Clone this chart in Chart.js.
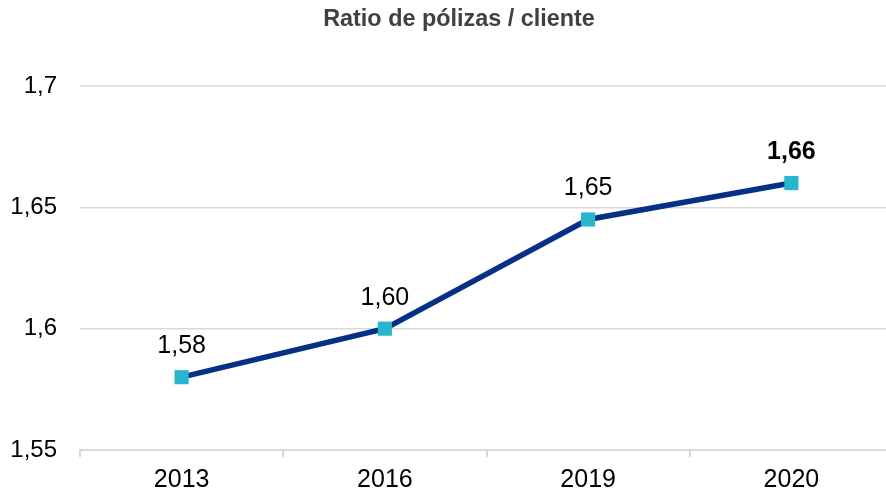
<!DOCTYPE html>
<html lang="es">
<head>
<meta charset="utf-8">
<title>Ratio de pólizas / cliente</title>
<script src="https://cdn.jsdelivr.net/npm/chart.js@4/dist/chart.umd.min.js"></script>
<style>
  html, body { margin: 0; padding: 0; background: #fff; overflow: hidden; }
  #ratioChart { display: block; }
</style>
</head>
<body>
<canvas id="ratioChart" width="893" height="496"></canvas>
<script>
// Datos del gráfico
const titulo = 'Ratio de pólizas / cliente';
const anios = ['2013', '2016', '2019', '2020'];
const ratios = [1.58, 1.60, 1.645, 1.66];
const etiquetasValor = ['1,58', '1,60', '1,65', '1,66'];
const etiquetaNegrita = [false, false, false, true];
const ticksY = [1.55, 1.6, 1.65, 1.7];
const ticksYTexto = ['1,55', '1,6', '1,65', '1,7'];

const FUENTE = '"Liberation Sans", Arial, Helvetica, sans-serif';

// Título centrado a mano (está algo desplazado a la derecha en el original)
const tituloPlugin = {
    id: 'tituloPlugin',
    afterDraw(chart) {
        const ctx = chart.ctx;
        ctx.save();
        ctx.font = 'bold 23.4px ' + FUENTE;
        ctx.fillStyle = '#404040';
        ctx.textAlign = 'center';
        ctx.textBaseline = 'alphabetic';
        ctx.fillText(titulo, 459, 26);
        ctx.restore();
    }
};

// Etiquetas de valor encima de cada punto
const etiquetasPlugin = {
    id: 'etiquetasPlugin',
    afterDatasetsDraw(chart) {
        const ctx = chart.ctx;
        const meta = chart.getDatasetMeta(0);
        ctx.save();
        ctx.textAlign = 'center';
        ctx.textBaseline = 'alphabetic';
        meta.data.forEach(function (pt, i) {
            ctx.font = (etiquetaNegrita[i] ? 'bold ' : '') + '25px ' + FUENTE;
            ctx.fillStyle = '#000';
            ctx.fillText(etiquetasValor[i], pt.x, pt.y - 24);
        });
        ctx.restore();
    }
};

const ctx = document.getElementById('ratioChart').getContext('2d');

new Chart(ctx, {
    type: 'line',
    data: {
        labels: anios,
        datasets: [{
            label: 'Ratio',
            data: ratios,
            borderColor: '#062F86',
            borderWidth: 5.5,
            backgroundColor: '#29B6CC',
            pointStyle: 'rect',
            pointRadius: 10,
            pointHoverRadius: 10,
            pointBorderWidth: 0,
            pointBackgroundColor: '#29B6CC',
            tension: 0,
            fill: false
        }]
    },
    options: {
        responsive: false,
        animation: false,
        devicePixelRatio: 1,
        layout: {
            autoPadding: false,
            padding: { top: 86, left: 0, right: 0, bottom: 0 }
        },
        plugins: {
            legend: { display: false },
            title: { display: false },
            tooltip: { enabled: false }
        },
        scales: {
            x: {
                offset: true,
                afterFit: function (scale) {
                    scale.height = 46;
                    scale.paddingLeft = 0;
                    scale.paddingRight = 0;
                },
                grid: {
                    offset: true,
                    drawOnChartArea: false,
                    drawTicks: true,
                    tickLength: 7,
                    color: '#d9d9d9',
                    lineWidth: 2
                },
                border: { display: true, color: '#d9d9d9', width: 2 },
                ticks: {
                    color: '#000',
                    padding: 8,
                    font: { family: FUENTE, size: 25 }
                }
            },
            y: {
                min: 1.55,
                max: 1.7,
                afterFit: function (scale) { scale.width = 80; },
                afterBuildTicks: function (scale) {
                    scale.ticks = ticksY.map(function (v) { return { value: v }; });
                },
                grid: {
                    drawTicks: false,
                    color: '#d9d9d9',
                    lineWidth: 1.5
                },
                border: { display: false },
                ticks: {
                    color: '#000',
                    padding: 23,
                    font: { family: FUENTE, size: 24 },
                    callback: function (value, index) { return ticksYTexto[index]; }
                }
            }
        }
    },
    plugins: [tituloPlugin, etiquetasPlugin]
});
</script>
</body>
</html>
